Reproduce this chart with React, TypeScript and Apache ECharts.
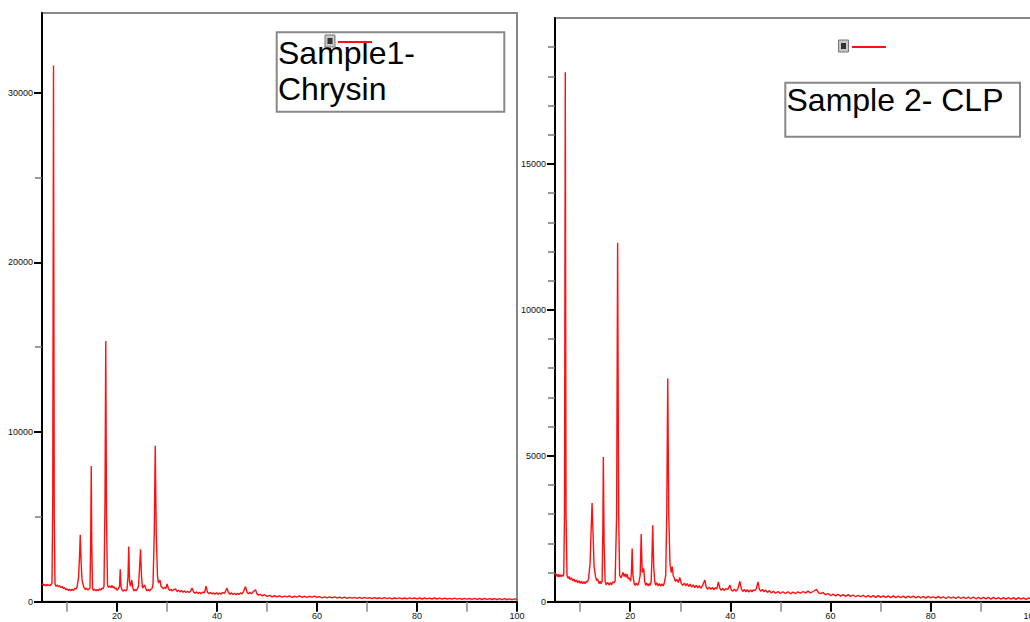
import React, { useEffect, useRef } from "react";
import * as echarts from "echarts";

// Sample 1 - Chrysin: [2θ, intensity]
const chrysin: [number, number][] = [
  [5.0, 980], [5.2, 1060], [5.4, 940], [5.6, 1010], [5.8, 930], [6.0, 1020], [6.2, 950], [6.4, 1000],
  [6.6, 940], [6.8, 1010], [7.0, 1100], [7.15, 6000], [7.3, 31600], [7.45, 5000], [7.6, 1050],
  [7.8, 900], [8.0, 980], [8.3, 880], [8.5, 940], [8.8, 840], [9.0, 900], [9.3, 780], [9.5, 830],
  [9.8, 700], [10.0, 770], [10.3, 660], [10.5, 730], [10.8, 650], [11.0, 740], [11.3, 660],
  [11.5, 780], [11.8, 760], [12.0, 850], [12.3, 1400], [12.5, 2600], [12.65, 3940], [12.8, 2500],
  [13.0, 1300], [13.3, 900], [13.5, 800], [13.7, 720], [13.9, 800], [14.2, 680], [14.4, 760],
  [14.6, 780], [14.75, 4000], [14.85, 8000], [14.95, 3500], [15.1, 800], [15.3, 660], [15.5, 740],
  [15.8, 640], [16.0, 720], [16.3, 650], [16.5, 760], [16.8, 700], [17.0, 800], [17.2, 760],
  [17.4, 900], [17.6, 6000], [17.75, 15370], [17.9, 5000], [18.1, 1000], [18.3, 840], [18.5, 920],
  [18.8, 830], [19.0, 960], [19.2, 820], [19.4, 880], [19.6, 760], [19.8, 800], [20.0, 680],
  [20.2, 740], [20.5, 900], [20.65, 1910], [20.8, 900], [21.0, 700], [21.2, 620], [21.5, 700],
  [21.8, 630], [22.0, 740], [22.2, 1500], [22.35, 3250], [22.5, 1200], [22.7, 900], [22.95, 1280],
  [23.2, 750], [23.4, 640], [23.6, 720], [23.8, 640], [24.0, 730], [24.3, 900], [24.55, 2200],
  [24.7, 3090], [24.9, 1500], [25.1, 800], [25.3, 880], [25.5, 990], [25.8, 740], [26.0, 640],
  [26.3, 720], [26.5, 630], [26.8, 740], [27.0, 780], [27.2, 1000], [27.45, 4000], [27.65, 9190],
  [27.85, 4000], [28.1, 1500], [28.3, 1100], [28.6, 1280], [28.8, 900], [29.0, 860], [29.3, 760],
  [29.5, 840], [29.8, 780], [30.0, 1050], [30.3, 760], [30.5, 660], [30.8, 740], [31.0, 640],
  [31.3, 700], [31.7, 760], [32.0, 600], [32.3, 680], [32.6, 580], [32.9, 660], [33.2, 560],
  [33.5, 640], [33.8, 540], [34.1, 620], [34.4, 540], [34.7, 620], [35.0, 800], [35.3, 580],
  [35.6, 500], [35.9, 580], [36.2, 480], [36.5, 560], [36.8, 470], [37.1, 560], [37.5, 540],
  [37.8, 920], [38.1, 560], [38.4, 470], [38.7, 550], [39.0, 450], [39.3, 530], [39.6, 440],
  [39.9, 530], [40.2, 430], [40.5, 520], [40.8, 440], [41.1, 540], [41.5, 500], [42.0, 800],
  [42.3, 540], [42.6, 440], [42.9, 520], [43.2, 420], [43.5, 500], [43.8, 410], [44.1, 500],
  [44.4, 420], [44.7, 520], [45.0, 460], [45.3, 600], [45.7, 890], [46.0, 560], [46.3, 460],
  [46.6, 560], [46.9, 470], [47.2, 580], [47.7, 700], [48.0, 460], [48.3, 390], [48.6, 440],
  [49.0, 350], [49.5, 410], [50.0, 310], [50.5, 370], [51.0, 290], [51.5, 350], [52.0, 290],
  [52.5, 350], [53.0, 270], [53.5, 330], [54.0, 280], [54.5, 340], [55.0, 260], [55.5, 320],
  [56.0, 270], [56.5, 340], [57.0, 260], [57.5, 320], [58.0, 250], [58.5, 320], [59.0, 270],
  [59.5, 330], [60.0, 250], [60.5, 300], [61.0, 230], [61.5, 290], [62.0, 230], [62.5, 280],
  [63.0, 220], [63.5, 290], [64.0, 220], [64.5, 270], [65.0, 210], [65.5, 270], [66.0, 200],
  [66.5, 260], [67.0, 210], [67.5, 260], [68.0, 200], [68.5, 250], [69.0, 190], [69.5, 250],
  [70.0, 200], [70.5, 240], [71.0, 180], [71.5, 240], [72.0, 190], [72.5, 230], [73.0, 180],
  [73.5, 240], [74.0, 180], [74.5, 230], [75.0, 170], [75.5, 220], [76.0, 180], [76.5, 230],
  [77.0, 170], [77.5, 220], [78.0, 170], [78.5, 230], [79.0, 180], [79.5, 220], [80.0, 170],
  [80.5, 220], [81.0, 160], [81.5, 220], [82.0, 170], [82.5, 210], [83.0, 160], [83.5, 220],
  [84.0, 160], [84.5, 210], [85.0, 150], [85.5, 210], [86.0, 160], [86.5, 200], [87.0, 150],
  [87.5, 210], [88.0, 150], [88.5, 200], [89.0, 140], [89.5, 200], [90.0, 150], [90.5, 190],
  [91.0, 140], [91.5, 200], [92.0, 140], [92.5, 190], [93.0, 130], [93.5, 190], [94.0, 140],
  [94.5, 180], [95.0, 130], [95.5, 180], [96.0, 130], [96.5, 180], [97.0, 120], [97.5, 180],
  [98.0, 130], [98.5, 170], [99.0, 120], [99.5, 170], [100, 130],
];

// Sample 2 - CLP: [2θ, intensity]
const clp: [number, number][] = [
  [5.0, 900], [5.2, 960], [5.4, 860], [5.6, 940], [5.8, 850], [6.0, 930], [6.2, 860], [6.4, 920],
  [6.6, 870], [6.75, 950], [6.9, 3000], [7.05, 18140], [7.2, 3000], [7.4, 900], [7.6, 800],
  [7.8, 860], [8.0, 760], [8.3, 820], [8.5, 720], [8.8, 780], [9.0, 680], [9.3, 740], [9.5, 650],
  [9.8, 720], [10.0, 630], [10.3, 700], [10.5, 620], [10.8, 690], [11.0, 620], [11.3, 700],
  [11.5, 680], [11.7, 800], [12.0, 1300], [12.2, 2400], [12.4, 3385], [12.6, 2300], [12.8, 1200],
  [13.1, 850], [13.3, 720], [13.5, 780], [13.8, 620], [14.0, 700], [14.2, 620], [14.4, 700],
  [14.55, 2500], [14.65, 4960], [14.8, 2000], [15.0, 700], [15.2, 580], [15.5, 660], [15.8, 570],
  [16.0, 650], [16.3, 580], [16.5, 680], [16.8, 640], [17.0, 720], [17.3, 3000], [17.5, 12300],
  [17.7, 3000], [17.9, 900], [18.2, 820], [18.4, 920], [18.6, 1000], [18.8, 860], [19.0, 960],
  [19.2, 840], [19.4, 940], [19.6, 780], [19.8, 820], [20.1, 700], [20.25, 1000], [20.4, 1825],
  [20.55, 900], [20.8, 620], [21.0, 560], [21.2, 640], [21.5, 560], [21.7, 640], [22.0, 900],
  [22.2, 2315], [22.4, 1000], [22.7, 1140], [22.9, 700], [23.1, 560], [23.3, 640], [23.6, 540],
  [23.8, 620], [24.0, 560], [24.2, 700], [24.35, 1500], [24.5, 2620], [24.7, 1200], [24.9, 700],
  [25.1, 560], [25.3, 650], [25.6, 540], [25.8, 620], [26.1, 530], [26.3, 610], [26.6, 540],
  [26.8, 640], [27.1, 900], [27.3, 3000], [27.5, 7650], [27.7, 3000], [27.95, 1300], [28.2, 1000],
  [28.4, 1200], [28.6, 880], [28.8, 820], [29.0, 700], [29.3, 760], [29.6, 660], [29.9, 835],
  [30.2, 620], [30.5, 560], [30.8, 640], [31.1, 540], [31.4, 620], [31.7, 520], [32.0, 600],
  [32.3, 500], [32.6, 580], [32.9, 480], [33.2, 560], [33.5, 470], [33.8, 550], [34.1, 460],
  [34.4, 540], [34.9, 740], [35.2, 480], [35.5, 430], [35.8, 500], [36.1, 420], [36.4, 490],
  [36.7, 410], [37.0, 480], [37.3, 440], [37.6, 680], [37.9, 460], [38.2, 390], [38.5, 460],
  [38.8, 380], [39.1, 450], [39.5, 420], [39.9, 570], [40.2, 400], [40.5, 360], [40.8, 430],
  [41.1, 360], [41.5, 440], [41.9, 700], [42.2, 430], [42.5, 350], [42.8, 420], [43.1, 340],
  [43.4, 410], [43.7, 330], [44.0, 400], [44.3, 340], [44.6, 410], [44.9, 380], [45.2, 450],
  [45.5, 680], [45.8, 420], [46.1, 360], [46.4, 420], [46.7, 340], [47.0, 400], [47.4, 320],
  [47.8, 380], [48.2, 300], [48.6, 360], [49.0, 290], [49.5, 350], [50.0, 280], [50.5, 340],
  [51.0, 280], [51.5, 340], [52.0, 270], [52.5, 330], [53.0, 280], [53.5, 340], [54.0, 290],
  [54.5, 350], [55.0, 300], [55.5, 360], [56.0, 300], [56.5, 350], [57.2, 420], [57.6, 300],
  [58.0, 280], [58.5, 310], [59.0, 240], [59.5, 280], [60.0, 210], [60.5, 260], [61.0, 200],
  [61.5, 250], [62.0, 190], [62.5, 240], [63.0, 180], [63.5, 240], [64.0, 180], [64.5, 230],
  [65.0, 170], [65.5, 220], [66.0, 170], [66.5, 220], [67.0, 160], [67.5, 210], [68.0, 160],
  [68.5, 210], [69.0, 150], [69.5, 210], [70.0, 150], [70.5, 200], [71.0, 150], [71.5, 200],
  [72.0, 140], [72.5, 200], [73.0, 140], [73.5, 190], [74.0, 140], [74.5, 190], [75.0, 130],
  [75.5, 190], [76.0, 140], [76.5, 190], [77.0, 130], [77.5, 180], [78.0, 130], [78.5, 180],
  [79.0, 120], [79.5, 180], [80.0, 130], [80.5, 170], [81.0, 120], [81.5, 180], [82.0, 120],
  [82.5, 170], [83.0, 110], [83.5, 170], [84.0, 120], [84.5, 160], [85.0, 110], [85.5, 170],
  [86.0, 110], [86.5, 160], [87.0, 110], [87.5, 160], [88.0, 100], [88.5, 160], [89.0, 100],
  [89.5, 150], [90.0, 100], [90.5, 150], [91.0, 100], [91.5, 150], [92.0, 90], [92.5, 150],
  [93.0, 100], [93.5, 140], [94.0, 90], [94.5, 140], [95.0, 90], [95.5, 140], [96.0, 90],
  [96.5, 140], [97.0, 80], [97.5, 140], [98.0, 90], [98.5, 130], [99.0, 80], [99.5, 130], [100, 100],
];

const xMajorTicks = [20, 40, 60, 80, 100];
const xMinorTicks = [10, 30, 50, 70, 90];
const y1MajorTicks = [0, 10000, 20000, 30000];
const y1MinorTicks = [5000, 15000, 25000];
const y2MajorTicks = [0, 5000, 10000, 15000];
const y2MinorTicks = [1000, 2000, 3000, 4000, 6000, 7000, 8000, 9000, 11000, 12000, 13000, 14000, 16000, 17000, 18000, 19000];

const label1 = "Sample1-\nChrysin";
const label2 = "Sample 2- CLP";

const FONT = "'Liberation Sans', Arial, sans-serif";
const plain = (v: number) => String(v);

function majorX(grid: number) {
  return {
    type: "value", gridIndex: grid, min: 5, max: 100, position: "bottom",
    axisLine: { show: true, onZero: false, lineStyle: { color: "#000", width: 2 } },
    axisTick: { show: true, customValues: xMajorTicks, length: 10, lineStyle: { color: "#000", width: 2 } },
    axisLabel: { show: true, customValues: xMajorTicks, formatter: plain, margin: 10, fontSize: 9, lineHeight: 9, color: "#111", fontFamily: FONT },
    splitLine: { show: false },
  };
}
function minorX(grid: number) {
  return {
    type: "value", gridIndex: grid, min: 5, max: 100, position: "bottom",
    axisLine: { show: false, onZero: false },
    axisTick: { show: true, customValues: xMinorTicks, length: 10, lineStyle: { color: "#888", width: 1.5 } },
    axisLabel: { show: false },
    splitLine: { show: false },
  };
}
function majorY(grid: number, max: number, ticks: number[]) {
  return {
    type: "value", gridIndex: grid, min: 0, max, position: "left",
    axisLine: { show: true, onZero: false, lineStyle: { color: "#000", width: 2 } },
    axisTick: { show: true, customValues: ticks, length: 8, lineStyle: { color: "#000", width: 2 } },
    axisLabel: { show: true, customValues: ticks, formatter: plain, margin: 9, fontSize: 9, color: "#111", fontFamily: FONT },
    splitLine: { show: false },
  };
}
function minorY(grid: number, max: number, ticks: number[]) {
  return {
    type: "value", gridIndex: grid, min: 0, max, position: "left",
    axisLine: { show: false, onZero: false },
    axisTick: { show: true, customValues: ticks, length: 7, lineStyle: { color: "#777", width: 1.5 } },
    axisLabel: { show: false },
    splitLine: { show: false },
  };
}

function icon(x: number, y: number) {
  return [
    { type: "rect", z: 300, shape: { x, y, width: 10, height: 12 }, style: { fill: "#c8c8c8", stroke: "#777", lineWidth: 1 } },
    { type: "rect", z: 301, shape: { x: x + 2.5, y: y + 3, width: 5, height: 6 }, style: { fill: "#333" } },
  ];
}

export default function App() {
  const ref = useRef<HTMLDivElement>(null);
  useEffect(() => {
    if (!ref.current) return;
    const chart = echarts.init(ref.current, null, { renderer: "svg" });
    chart.setOption({
      animation: false,
      backgroundColor: "#fff",
      grid: [
        { left: 42, top: 13, width: 475, height: 588.7, show: true, borderColor: "#888", borderWidth: 2, backgroundColor: "transparent", outerBoundsMode: "none", containLabel: false },
        { left: 555, top: 18, width: 476, height: 583.7, show: true, borderColor: "#888", borderWidth: 2, backgroundColor: "transparent", outerBoundsMode: "none", containLabel: false },
      ],
      xAxis: [majorX(0), minorX(0), majorX(1), minorX(1)],
      yAxis: [
        majorY(0, 34700, y1MajorTicks), minorY(0, 34700, y1MinorTicks),
        majorY(1, 20000, y2MajorTicks), minorY(1, 20000, y2MinorTicks),
      ],
      legend: [
        { z: 300, data: ["Sample1"], left: 338, top: 41, itemWidth: 34, itemHeight: 2, icon: "rect", itemGap: 0, padding: 0, formatter: () => "", textStyle: { fontSize: 1 } },
        { z: 300, data: ["Sample2"], left: 852, top: 46, itemWidth: 34, itemHeight: 2, icon: "rect", itemGap: 0, padding: 0, formatter: () => "", textStyle: { fontSize: 1 } },
      ],
      graphic: [
        {
          type: "rect", z: 100,
          shape: { x: 276.7, y: 32.3, width: 227.6, height: 79.4 },
          style: { fill: "#fff", stroke: "#888", lineWidth: 2 },
        },
        {
          type: "text", z: 101, x: 278, y: 35,
          style: { text: label1, font: `32px ${FONT}`, fill: "#000", lineHeight: 36 },
        },
        {
          type: "rect", z: 100,
          shape: { x: 785.3, y: 82.7, width: 234.7, height: 54 },
          style: { fill: "#fff", stroke: "#888", lineWidth: 2 },
        },
        {
          type: "text", z: 101, x: 786.5, y: 84,
          style: { text: label2, font: `32px ${FONT}`, fill: "#000" },
        },
        ...icon(325, 35),
        ...icon(838.5, 40),
      ],
      series: [
        {
          name: "Sample1", type: "line", xAxisIndex: 0, yAxisIndex: 0, data: chrysin,
          symbol: "none", lineStyle: { color: "#ff1010", width: 1.4 }, itemStyle: { color: "#ff1010" },
        },
        {
          name: "Sample2", type: "line", xAxisIndex: 2, yAxisIndex: 2, data: clp,
          symbol: "none", lineStyle: { color: "#ff1010", width: 1.4 }, itemStyle: { color: "#ff1010" },
        },
      ],
    });
    return () => chart.dispose();
  }, []);
  return <div ref={ref} style={{ position: "fixed", left: 0, top: 0, width: 1030, height: 622 }} />;
}
